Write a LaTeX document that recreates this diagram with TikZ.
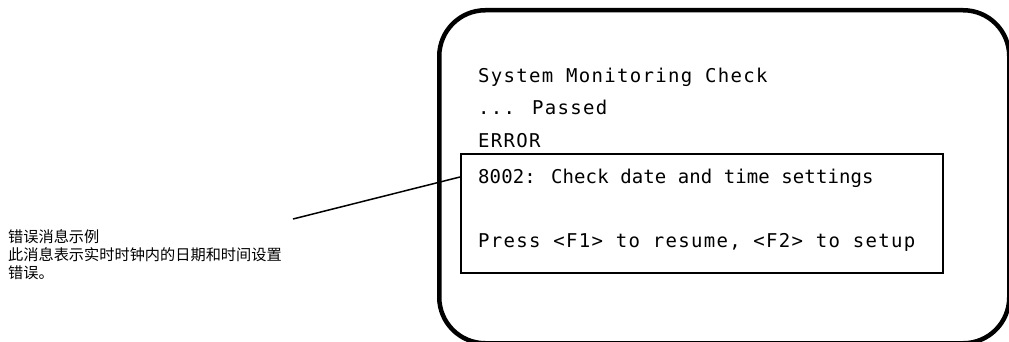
\documentclass[tikz,border=0pt]{standalone}
\usepackage{fontspec}
\newfontfamily\scrmono[LetterSpace=6.9]{DejaVu Sans Mono}
\newfontfamily\scrmonotight[LetterSpace=0.5]{DejaVu Sans Mono}
\newfontfamily\cjk{Noto Sans CJK SC}
\begin{document}
\begin{tikzpicture}[x=1pt,y=-1pt,
  screenline/.style={anchor=base west,inner sep=0pt,font=\scrmono\fontsize{19}{21}\selectfont},
  screenlinetight/.style={screenline,font=\scrmonotight\fontsize{19}{21}\selectfont},
  screenframe/.style={draw,line width=4.5pt,rounded corners=46pt,anchor=north west,inner sep=0pt,
    minimum width=570pt,minimum height=333pt},
  msgbox/.style={draw,line width=1.8pt,anchor=north west,inner sep=0pt,
    minimum width=482pt,minimum height=119pt},
  notetext/.style={anchor=north west,inner sep=0pt,align=left,
    font=\cjk\fontsize{15.2}{18.3}\selectfont},
  leader/.style={line width=1.5pt}]
\useasboundingbox (0,0) rectangle (1009,342);

% monitor screen and the boxed error message
\node[screenframe] (screen) at (437,8) {};
\node[msgbox] (errbox) at (460,153) {};

% screen output
\node[screenline] (l1) at (478,83)  {System Monitoring Check};
\node[screenline] (l2) at (478,115) {... Passed};
\node[screenline] (l3) at (478,148) {ERROR};
\node[screenlinetight] (l4) at (478,183) {8002: Check date and time settings};
\node[screenline] (l5) at (478,247) {Press <F1> to resume, <F2> to setup};

% explanatory note
\node[notetext] (note) at (8,229) {错误消息示例\\此消息表示实时时钟内的日期和时间设置\\错误。};

% leader line from the note to the message box
\coordinate (leadstart) at (293,219);
\coordinate (leadend) at ([yshift=-24pt]errbox.north west);
\draw[leader] (leadstart) -- (leadend);
\end{tikzpicture}
\end{document}
